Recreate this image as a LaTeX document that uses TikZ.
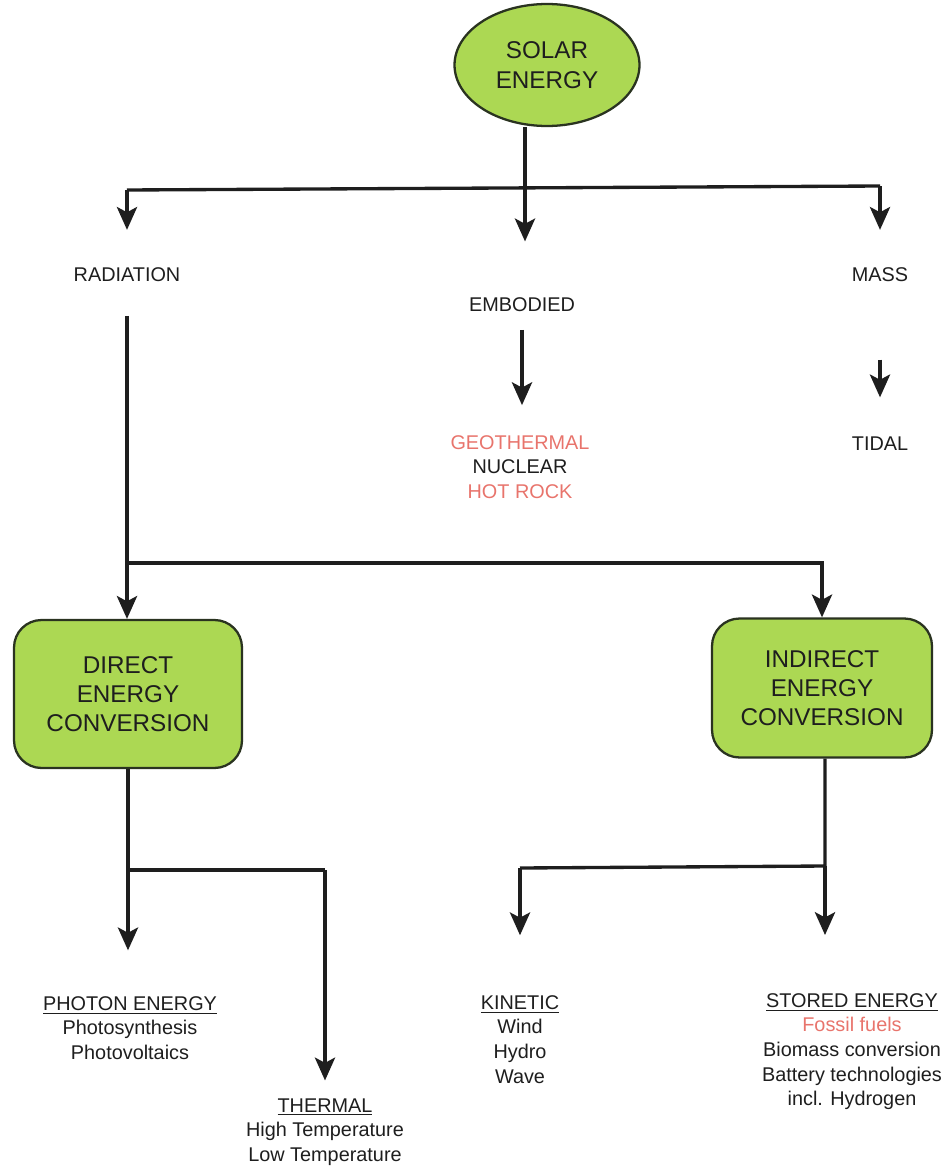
\documentclass[tikz,border=0pt]{standalone}
\usepackage{fontspec}
\setmainfont{Liberation Sans}
\usepackage{xcolor}
\usepackage{tikz}
\usetikzlibrary{arrows.meta,shapes.geometric}
\definecolor{SEGreen}{HTML}{ACD853}
\definecolor{SEEdge}{HTML}{2A3320}
\definecolor{SEInk}{HTML}{1E1E1E}
\definecolor{SERed}{HTML}{E8746C}
\tikzset{
  flow/.style={SEInk,line width=1.9pt},
  flowarrow/.style={flow,-{Stealth[length=13pt,width=11.5pt,inset=3pt]}},
  greenbox/.style={draw=SEEdge,fill=SEGreen,line width=1.3pt,align=center,text=SEInk,font=\fontsize{13.8}{16.7}\selectfont},
  lbl/.style={align=center,text=SEInk,inner sep=0pt,font=\fontsize{11.3}{14}\selectfont},
}

\begin{document}
\begin{tikzpicture}[x=0.02cm,y=-0.02cm]
\path[use as bounding box] (0,0) rectangle (942,1166);
\node[greenbox,ellipse,minimum width=3.7cm,minimum height=2.44cm] (solar) at (547,65) {SOLAR\\ENERGY};
\node[lbl] (radiation) at (127,275) {RADIATION};
\node[lbl] (embodied) at (522,305) {EMBODIED};
\node[lbl] (mass) at (880,275) {MASS};
\node[lbl,anchor=north] (geo) at (520,435) {{\color{SERed}GEOTHERMAL}\\NUCLEAR\\{\color{SERed}HOT ROCK}};
\node[lbl,anchor=north] (tidal) at (880,436) {TIDAL};
\node[greenbox,rounded corners=0.55cm,minimum width=4.56cm,minimum height=2.96cm] (direct) at (128,694) {DIRECT\\ENERGY\\CONVERSION};
\node[greenbox,rounded corners=0.55cm,minimum width=4.4cm,minimum height=2.78cm] (indirect) at (822,688) {INDIRECT\\ENERGY\\CONVERSION};
\node[lbl,anchor=north] (photon) at (130,996) {\underline{PHOTON ENERGY}\\Photosynthesis\\Photovoltaics};
\node[lbl,anchor=north] (thermal) at (325,1098) {\underline{THERMAL}\\High Temperature\\Low Temperature};
\node[lbl,anchor=north] (kinetic) at (520,995) {\underline{KINETIC}\\Wind\\Hydro\\Wave};
\node[lbl,anchor=north] (stored) at (852,993) {\underline{STORED ENERGY}\\{\color{SERed}Fossil fuels}\\Biomass conversion\\Battery technologies\\incl. Hydrogen};
\coordinate (topsplit) at (525,188);
\coordinate (topleft) at (127,190);
\coordinate (topright) at (880,186);
\coordinate (radsplit) at (127,563);
\coordinate (dirsplit) at (128,870);
\coordinate (thermsplit) at (325,870);
\coordinate (indsplit) at (825,866);
\coordinate (kinsplit) at (520,868);
\draw[flow] (solar.south -| topsplit) -- (topsplit);
\draw[flow] (topleft) -- (topright);
\draw[flowarrow,shorten >=21.5pt] (topleft) -- (radiation.north);
\draw[flowarrow,shorten >=32pt] (topsplit) -- (topsplit |- embodied.north);
\draw[flowarrow,shorten >=21.5pt] (topright) -- (mass.north);
\draw[flowarrow,shorten <=10pt,shorten >=17pt] (embodied.south) -- (embodied.south |- geo.north);
\draw[flowarrow,shorten <=44pt,shorten >=22pt] (mass.south) -- (tidal.north);
\draw[flowarrow,shorten <=19pt] (radiation.south) -- (radiation.south |- direct.north);
\draw[flowarrow] (radsplit) -- (radsplit -| indirect.north) -- (indirect.north);
\draw[flow] (direct.south) -- (dirsplit) -- (thermsplit);
\draw[flowarrow,shorten >=26pt] (dirsplit) -- (dirsplit |- photon.north);
\draw[flowarrow,shorten >=10pt] (thermsplit) -- (thermal.north);
\draw[flow] (indirect.south -| indsplit) -- (indsplit) -- (kinsplit);
\draw[flowarrow,shorten >=34pt] (kinsplit) -- (kinetic.north);
\draw[flowarrow,shorten >=33pt] (indsplit) -- (indsplit |- stored.north);
\end{tikzpicture}
\end{document}
